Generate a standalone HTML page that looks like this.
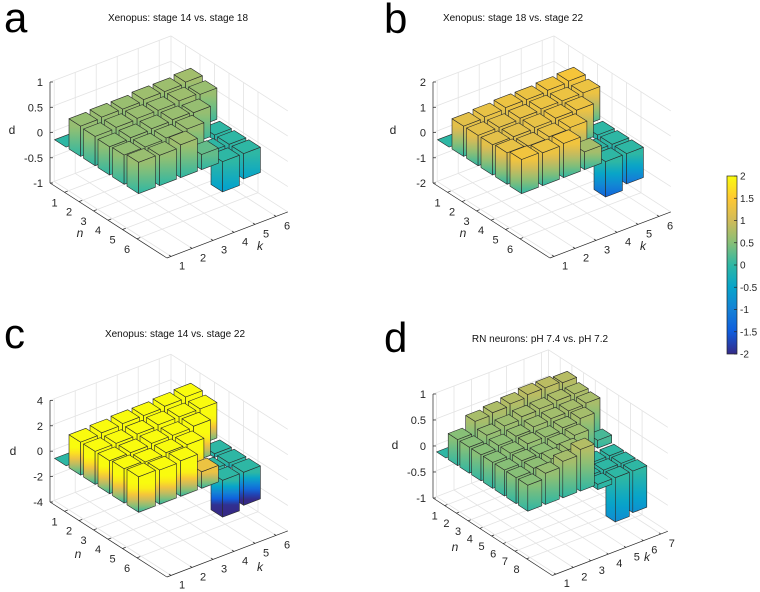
<!DOCTYPE html>
<html><head><meta charset="utf-8"><style>
html,body{margin:0;padding:0;background:#fff;}
svg{display:block;font-family:"Liberation Sans",Arial,sans-serif;}
</style></head><body>
<svg id="fig" width="760" height="592" viewBox="0 0 760 592" xmlns="http://www.w3.org/2000/svg">
<defs id="defs"></defs>
<text x="4" y="32" font-size="42">a</text>
<text x="384" y="33" font-size="42">b</text>
<text x="4" y="348" font-size="42">c</text>
<text x="384" y="352" font-size="42">d</text>
<g id="cbar"></g>
</svg>
<script>
// ---- data (rows n=1.., cols k=1..) ----
const nTicksABC = [1,2,3,4,5,6];
const kTicksABC = [1,2,3,4,5,6];
const nTicksD = [1,2,3,4,5,6,7,8];
const kTicksD = [1,2,3,4,5,6,7];
const zTicksA = [-1,-0.5,0,0.5,1];
const zTicksB = [-2,-1,0,1,2];
const zTicksC = [-4,-2,0,2,4];
const zTicksD = [-1,-0.5,0,0.5,1];
const valuesA = [
 [0,0,0,0,0,0],
 [0.6,0.62,0.62,0.65,0.65,0.68],
 [0.58,0.6,0.62,0.62,0.65,0.62],
 [0.56,0.58,0.6,0.62,0.6,-0.1],
 [0.58,0.58,0.6,0.62,-0.1,-0.15],
 [0.62,0.6,0.65,0.3,-0.6,-0.5]];
const valuesB = [
 [0,0,0,0,0,0],
 [1.2,1.25,1.3,1.3,1.35,1.4],
 [1.2,1.2,1.25,1.3,1.3,1.3],
 [1.2,1.2,1.25,1.3,1.3,-0.2],
 [1.25,1.2,1.25,1.3,-0.2,-0.3],
 [1.35,1.3,1.35,0.7,-1.4,-1.2]];
const valuesC = [
 [0,0,0,0,0,0],
 [2.6,2.7,2.8,2.8,2.9,3.0],
 [2.6,2.6,2.7,2.8,2.8,2.8],
 [2.6,2.6,2.7,2.7,2.8,-0.3],
 [2.7,2.6,2.7,2.7,-0.3,-0.4],
 [2.8,2.7,2.8,1.3,-2.9,-2.6]];
const valuesD = [
 [0,0,0,0,0,0,0],
 [0.5,0.72,0.76,0.8,0.85,0.85,0.82],
 [0.5,0.6,0.65,0.7,0.72,0.75,0.75],
 [0.5,0.55,0.6,0.65,0.68,0.7,0.72],
 [0.5,0.55,0.6,0.6,0.65,0.7,0.15],
 [0.5,0.55,0.55,0.6,0.65,-0.05,-0.1],
 [0.5,0.55,0.6,0.65,-0.05,-0.1,-0.1],
 [0.5,0.6,0.7,0.8,-0.1,-0.85,-0.8]];
const titles = ["Xenopus: stage 14 vs. stage 18","Xenopus: stage 18 vs. stage 22","Xenopus: stage 14 vs. stage 22","RN neurons: pH 7.4 vs. pH 7.2"];
const cbarTicks = [-2,-1.5,-1,-0.5,0,0.5,1,1.5,2];

const parula = ["#352A87","#0F5CDD","#1481D6","#06A4CA","#2EB7A4","#87BF77","#D1BB59","#FEC832","#F9FB0E"];
const CLIM=[-2,2];
const NS="http://www.w3.org/2000/svg";
const svg=document.getElementById('fig');
const defs=document.getElementById('defs');
function hex2rgb(h){return [parseInt(h.substr(1,2),16),parseInt(h.substr(3,2),16),parseInt(h.substr(5,2),16)];}
function cmap(v){
  let t=(v-CLIM[0])/(CLIM[1]-CLIM[0]); t=Math.max(0,Math.min(1,t));
  const p=t*(parula.length-1); const i=Math.min(parula.length-2,Math.floor(p)); const f=p-i;
  const a=hex2rgb(parula[i]), b=hex2rgb(parula[i+1]);
  return 'rgb('+a.map((x,j)=>Math.round(x+(b[j]-x)*f)).join(',')+')';
}
function mk(tag,attrs,parent){const e=document.createElementNS(NS,tag);for(const k in attrs)e.setAttribute(k,attrs[k]);(parent||svg).appendChild(e);return e;}
let gid=0;

const panels=[
 {key:'a',vals:valuesA,nT:nTicksABC,kT:kTicksABC,zT:zTicksA,ox:50,oy:183,N:[14.5,9.3],K:[21,-8],Z:50.5,nlo:0,nhi:8.06,klo:0.8,khi:6.56,
  title:[178,21],nlab:[80,237],klab:[260,250],dlab:[12,134]},
 {key:'b',vals:valuesB,nT:nTicksABC,kT:kTicksABC,zT:zTicksB,ox:433,oy:183,N:[14.5,9.3],K:[21,-8],Z:25.25,nlo:0,nhi:8.06,klo:0.8,khi:6.56,
  title:[513,21],nlab:[463,237],klab:[643,250],dlab:[393,134]},
 {key:'c',vals:valuesC,nT:nTicksABC,kT:kTicksABC,zT:zTicksC,ox:50,oy:502,N:[14.5,9.3],K:[21,-8],Z:12.7,nlo:0,nhi:8.06,klo:0.8,khi:6.56,
  title:[175,337],nlab:[78,558],klab:[260,571],dlab:[13,455]},
 {key:'d',vals:valuesD,nT:nTicksD,kT:kTicksD,zT:zTicksD,ox:433,oy:498,N:[11.7,7.6],K:[17.5,-6.7],Z:52,nlo:0,nhi:10.2,klo:0.8,khi:7.4,
  title:[540,342],nlab:[455,551],klab:[647,561],dlab:[395,449]}
];

panels.forEach(P=>{
  const zmin=P.zT[0], zmax=P.zT[P.zT.length-1];
  const pr=(n,k,z)=>[P.ox+(n-P.nlo)*P.N[0]+(k-P.klo)*P.K[0], P.oy+(n-P.nlo)*P.N[1]+(k-P.klo)*P.K[1]-(z-zmin)*P.Z];
  const g=mk('g',{});
  
  
  const grid=mk('g',{stroke:'#e3e3e3','stroke-width':'0.8',fill:'none'},g);
  
  
  const line=(a,b,par,col,w)=>mk('line',{x1:a[0].toFixed(1),y1:a[1].toFixed(1),x2:b[0].toFixed(1),y2:b[1].toFixed(1),stroke:col||'#e3e3e3','stroke-width':w||0.8},par);
  P.nT.forEach(n=>line(pr(n,P.klo,zmin),pr(n,P.khi,zmin),grid));
  P.kT.forEach(k=>line(pr(P.nlo,k,zmin),pr(P.nhi,k,zmin),grid));
  P.kT.forEach(k=>line(pr(P.nlo,k,zmin),pr(P.nlo,k,zmax),grid));
  P.zT.forEach(z=>line(pr(P.nlo,P.klo,z),pr(P.nlo,P.khi,z),grid));
  P.nT.forEach(n=>line(pr(n,P.khi,zmin),pr(n,P.khi,zmax),grid));
  P.zT.forEach(z=>line(pr(P.nlo,P.khi,z),pr(P.nhi,P.khi,z),grid));
  line(pr(P.nlo,P.khi,zmin),pr(P.nlo,P.khi,zmax),grid);
  const ax=mk('g',{},g);
  
  
  line(pr(P.nlo,P.klo,zmin),pr(P.nlo,P.klo,zmax),ax,'#262626',0.7);
  line(pr(P.nlo,P.klo,zmin),pr(P.nhi,P.klo,zmin),ax,'#262626',0.7);
  line(pr(P.nhi,P.klo,zmin),pr(P.nhi,P.khi,zmin),ax,'#262626',0.7);
  const txt=(x,y,s,anchor,extra,name)=>{const t=mk('text',Object.assign({x:x.toFixed(1),y:y.toFixed(1),'font-size':11,fill:'#262626','text-anchor':anchor},extra||{}),g);t.textContent=s;
    
    return t;};
  P.zT.forEach(z=>{const p=pr(P.nlo,P.klo,z);line(p,[p[0]+3,p[1]],ax,'#262626',0.7);txt(p[0]-7,p[1]+4,String(z),'end',null,'z-tick-label');});
  P.nT.forEach(n=>{const p=pr(n,P.klo,zmin);line(p,[p[0]+P.K[0]*0.15,p[1]+P.K[1]*0.15],ax,'#262626',0.7);txt(p[0]-10,p[1]+14,String(n),'middle',null,'n-tick-label');});
  P.kT.forEach(k=>{const p=pr(P.nhi,k,zmin);line(p,[p[0]-P.N[0]*0.15,p[1]-P.N[1]*0.15],ax,'#262626',0.7);txt(p[0]+11,p[1]+13,String(k),'middle',null,'k-tick-label');});
  txt(P.nlab[0],P.nlab[1],'n','middle',{'font-style':'italic','font-size':12},'n-axis-title');
  txt(P.klab[0],P.klab[1],'k','middle',{'font-style':'italic','font-size':12},'k-axis-title');
  txt(P.dlab[0],P.dlab[1],'d','middle',{'font-size':12},'d-axis-title');
  txt(P.title[0],P.title[1],titles['abcd'.indexOf(P.key)],'middle',{'font-size':10,fill:'#111'},'panel-title');
  const bars=mk('g',{stroke:'#2a2a2a','stroke-width':'0.6','stroke-linejoin':'round'},g);
  
  
  const cells=[];
  P.vals.forEach((row,i)=>row.forEach((v,j)=>{if(v!==null)cells.push({n:i+1,k:j+1,v:v});}));
  cells.sort((a,b)=>(a.n-a.k)-(b.n-b.k)||(a.n-b.n));
  const w=0.4;
  const poly=(pts,fill,name)=>{const e=mk('polygon',{points:pts.map(p=>p[0].toFixed(1)+','+p[1].toFixed(1)).join(' '),fill:fill},bars);
    
    return e;};
  const grad=(p1,p2,zt,zb)=>{const id='g'+(gid++);const lg=mk('linearGradient',{id:id,gradientUnits:'userSpaceOnUse',x1:p1[0],y1:p1[1],x2:p2[0],y2:p2[1]},defs);
    for(let s=0;s<=6;s++){const f=s/6;mk('stop',{offset:f,'stop-color':cmap(zt+(zb-zt)*f)},lg);}return 'url(#'+id+')';};
  cells.forEach(c=>{
    const hi=Math.max(0,c.v), lo=Math.min(0,c.v);
    const n0=c.n-w,n1=c.n+w,k0=c.k-w,k1=c.k+w;
    if(hi-lo>1e-6){
      poly([pr(n0,k0,hi),pr(n1,k0,hi),pr(n1,k0,lo),pr(n0,k0,lo)],grad(pr(n1,k0,hi),pr(n1,k0,lo),hi,lo),'bar-left-face');
      poly([pr(n1,k0,hi),pr(n1,k1,hi),pr(n1,k1,lo),pr(n1,k0,lo)],grad(pr(n1,k0,hi),pr(n1,k0,lo),hi,lo),'bar-front-face');
    }
    poly([pr(n0,k0,hi),pr(n1,k0,hi),pr(n1,k1,hi),pr(n0,k1,hi)],cmap(hi),'bar-top');
  });
});

(function(){
  const cb=document.getElementById('cbar');
  const x=727,y0=176,y1=354,wd=10;
  const lg=mk('linearGradient',{id:'cbgrad',x1:0,y1:1,x2:0,y2:0},defs);
  for(let s=0;s<=16;s++){const f=s/16;mk('stop',{offset:f,'stop-color':cmap(CLIM[0]+(CLIM[1]-CLIM[0])*f)},lg);}
  const r=mk('rect',{x:x,y:y0,width:wd,height:y1-y0,fill:'url(#cbgrad)',stroke:'#262626','stroke-width':0.7},cb);
  
  
  cbarTicks.forEach(v=>{
    const y=y1-(v-CLIM[0])/(CLIM[1]-CLIM[0])*(y1-y0);
    mk('line',{x1:x+wd-3,y1:y,x2:x+wd,y2:y,stroke:'#262626','stroke-width':0.7},cb);
    const t=mk('text',{x:x+wd+3,y:y+3.5,'font-size':10,fill:'#262626'},cb);
    t.textContent=String(v);
    
    
  });
})();
</script>
</body></html>
